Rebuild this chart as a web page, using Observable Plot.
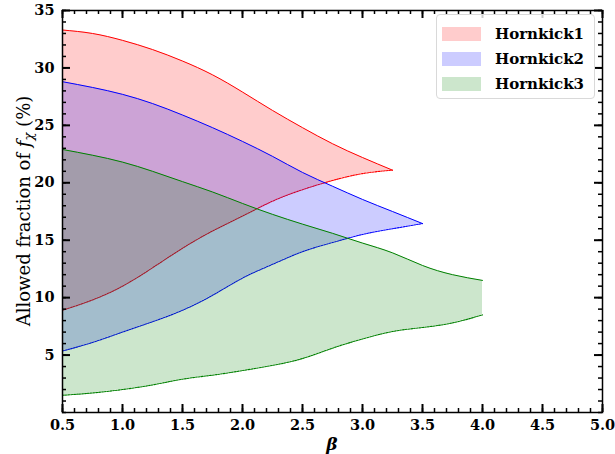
<!DOCTYPE html>
<html><head><meta charset="utf-8">
<script src="https://cdn.jsdelivr.net/npm/d3@7"></script>
<script src="https://cdn.jsdelivr.net/npm/@observablehq/plot@0.6"></script>
<style>
body{margin:0;background:#fff;}
.legend{position:absolute;left:436px;top:14px;width:159px;height:85px;border:1px solid #d9d9d9;border-radius:4px;background:rgba(255,255,255,0.8);box-sizing:border-box;font-family:"DejaVu Serif";font-weight:bold;font-size:15px;color:#000;}
.row{position:absolute;left:5px;display:flex;align-items:center;height:20px;}
.sw{width:39px;height:14px;margin-right:14px;}
</style>
</head><body><div id="chart"></div>
<script>
// Hornkick1
const beta1 = [0.5,0.75,1.0,1.25,1.5,1.75,2.0,2.25,2.5,2.75,3.0,3.25];
const upper1 = [33.3,33.0,32.4,31.6,30.6,29.4,27.9,26.3,24.8,23.4,22.2,21.1];
const lower1 = [8.9,9.8,11.0,12.6,14.3,15.8,17.1,18.4,19.4,20.2,20.8,21.1];
// Hornkick2
const beta2 = [0.5,0.75,1.0,1.25,1.5,1.75,2.0,2.25,2.5,2.75,3.0,3.25,3.5];
const upper2 = [28.8,28.3,27.7,26.9,25.9,24.8,23.6,22.3,20.9,19.7,18.55,17.5,16.45];
const lower2 = [5.35,6.1,7.0,7.9,8.9,10.2,11.7,12.9,14.0,14.8,15.5,16.0,16.45];
// Hornkick3
const beta3 = [0.5,0.75,1.0,1.25,1.5,1.75,2.0,2.25,2.5,2.75,3.0,3.25,3.5,3.75,4.0];
const upper3 = [22.9,22.4,21.8,21.0,20.1,19.2,18.2,17.25,16.4,15.6,14.75,13.9,12.8,12.0,11.5];
const lower3 = [1.5,1.7,2.0,2.4,2.9,3.25,3.65,4.1,4.7,5.6,6.4,7.05,7.4,7.8,8.5];

const seriesNames = ["Hornkick1","Hornkick2","Hornkick3"];
const seriesColors = ["red","blue","#008000"];
const xTicks = [0.5,1.0,1.5,2.0,2.5,3.0,3.5,4.0,4.5,5.0];
const yTicks = [5,10,15,20,25,30,35];
const xMinor = d3.range(5,51).map(d=>d/10);
const yMinor = d3.range(0,36);

const W = 615, H = 454, ML = 62, MR = 13, MT = 10, MB = 42;
const FW = W - ML - MR, FH = H - MT - MB;

const mk = (b,u,l) => b.map((x,i)=>({beta:x, hi:u[i], lo:l[i]}));
const sets = [mk(beta1,upper1,lower1), mk(beta2,upper2,lower2), mk(beta3,upper3,lower3)];
const curve = "natural";

const marks = [];
sets.forEach((rows,i)=>{
  const c = seriesColors[i];
  marks.push(Plot.areaY(rows,{x:"beta",y1:"lo",y2:"hi",fill:c,fillOpacity:0.2,curve}));
  marks.push(Plot.line(rows,{x:"beta",y:"hi",stroke:c,strokeWidth:1,curve}));
  marks.push(Plot.line(rows,{x:"beta",y:"lo",stroke:c,strokeWidth:1.1,strokeDasharray:"1.8,1",curve}));
});
const rx = (data, len, sw) => [
  Plot.ruleX(data,{x:d=>d, insetTop:FH-len, stroke:"black", strokeWidth:sw}),
  Plot.ruleX(data,{x:d=>d, insetBottom:FH-len, stroke:"black", strokeWidth:sw})
];
const ry = (data, len, sw) => [
  Plot.ruleY(data,{y:d=>d, insetRight:FW-len, stroke:"black", strokeWidth:sw}),
  Plot.ruleY(data,{y:d=>d, insetLeft:FW-len, stroke:"black", strokeWidth:sw})
];
const font = {fontFamily:"DejaVu Serif", fontSize:14.5, fontWeight:"bold", fill:"black"};
marks.push(
  ...rx(xMinor, 4, 1.5), ...rx(xTicks, 8, 2),
  ...ry(yMinor, 4, 1.5), ...ry(yTicks, 8, 2),
  Plot.axisX(xTicks,{anchor:"bottom",tickSize:0,tickPadding:7,tickFormat:d=>d.toFixed(1),...font}),
  Plot.axisY(yTicks,{anchor:"left",tickSize:0,tickPadding:8,tickFormat:d=>String(d),...font}),
  Plot.frame({strokeWidth:1.5})
);

const svg = Plot.plot({
  width:W, height:H,
  marginLeft:ML, marginRight:MR, marginTop:MT, marginBottom:MB,
  x:{domain:[0.5,5.0], label:null},
  y:{domain:[0,35], label:null},
  marks
});
const sel = d3.select(svg);
const yl = sel.append("text").attr("transform","translate(30,211) rotate(-90)")
  .attr("text-anchor","middle").attr("font-family","DejaVu Serif").attr("font-size",18)
  .attr("font-weight","normal").attr("fill","black");
yl.append("tspan").text("Allowed fraction of ");
yl.append("tspan").attr("font-style","italic").text("f");
yl.append("tspan").attr("font-style","italic").attr("font-size",13).attr("dy",3).text("χ");
yl.append("tspan").attr("dy",-3).text(" (%)");
sel.append("text").attr("x",332).attr("y",450).attr("text-anchor","middle")
  .attr("font-family","DejaVu Serif").attr("font-style","italic").attr("font-weight","bold")
  .attr("font-size",17).attr("fill","black").text("β");

document.getElementById("chart").appendChild(svg);
const lg = document.createElement("div");
lg.className = "legend";
seriesNames.forEach((n,i)=>{
  const r = document.createElement("div");
  r.className = "row";
  r.style.top = (9 + i*25) + "px";
  const sw = document.createElement("div");
  sw.className = "sw";
  sw.style.background = seriesColors[i];
  sw.style.opacity = 0.2;
  const t = document.createElement("span");
  t.textContent = n;
  r.appendChild(sw); r.appendChild(t);
  lg.appendChild(r);
});
document.body.appendChild(lg);
</script></body></html>
